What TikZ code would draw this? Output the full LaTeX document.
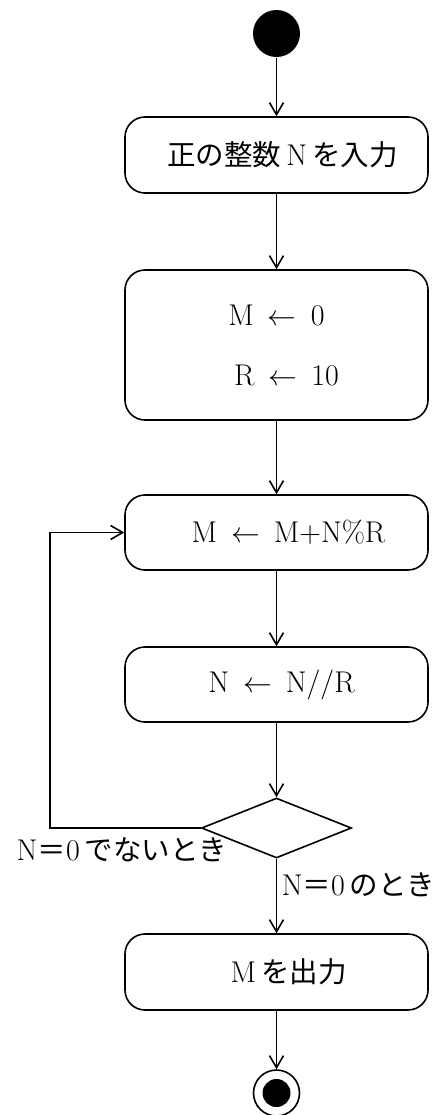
\documentclass[tikz,border=0pt]{standalone}
\usepackage{fontspec}
\newfontfamily\cjk[Scale=0.95]{Noto Sans CJK JP}
\usetikzlibrary{arrows.meta,shapes.geometric}
\newcommand{\asg}{\hspace{7pt}$\leftarrow$\hspace{7pt}}
\begin{document}
\begin{tikzpicture}[x=0.5pt,y=-0.5pt,
  font=\fontsize{15}{18}\selectfont,
  line width=0.8pt,
  flow/.style={-{Straight Barb[length=6pt,width=7pt]}},
  act/.style={draw, rounded corners=10pt, minimum width=151.5pt, inner sep=0pt},
  dec/.style={draw, diamond, minimum width=75pt, minimum height=30pt, inner sep=0pt},
  lbl/.style={inner sep=0pt}]
\useasboundingbox (0,0) rectangle (443,1115);
\node[circle, fill=black, minimum size=23.5pt, inner sep=0pt] (start) at (276.5,33.5) {};
\node[act, minimum height=38pt] (b1) at (276.5,155) {\hspace*{6pt}{\cjk 正の整数}\,N\,{\cjk を入力}};
\node[act, minimum height=75pt, align=center] (b2) at (276.5,345) {M\asg 0\\[12pt]\hspace*{10pt}R\asg 10};
\node[act, minimum height=37.5pt] (b3) at (276.5,532.5) {\hspace*{12pt}M\asg M+N\%R};
\node[act, minimum height=37.5pt] (b4) at (276.5,684.5) {\hspace*{5pt}N\asg N//R};
\node[dec] (d) at (276.5,828) {};
\node[act, minimum height=38pt] (b5) at (276.5,972) {\hspace*{12pt}M\,{\cjk を出力}};
\node[circle, draw, minimum size=23pt, inner sep=0pt] (end) at (276.5,1093) {};
\node[circle, fill=black, minimum size=14pt, inner sep=0pt] (endin) at (end.center) {};
\coordinate (lp1) at (50,828);
\coordinate (lp2) at (50,532.5);
\draw[flow] (start) -- (b1);
\draw[flow] (b1) -- (b2);
\draw[flow] (b2) -- (b3);
\draw[flow] (b3) -- (b4);
\draw[flow] (b4) -- (d);
\draw[flow] (d.west) -- (lp1) -- (lp2) -- (b3.west);
\draw[flow] (d) -- (b5);
\draw[flow] (b5) -- (end);
\node[lbl] (l1) at (122,850) {N{\cjk ＝}0\,{\cjk でないとき}};
\node[lbl, anchor=west] (l2) at (281,885) {N{\cjk ＝}0\,{\cjk のとき}};
\end{tikzpicture}
\end{document}
